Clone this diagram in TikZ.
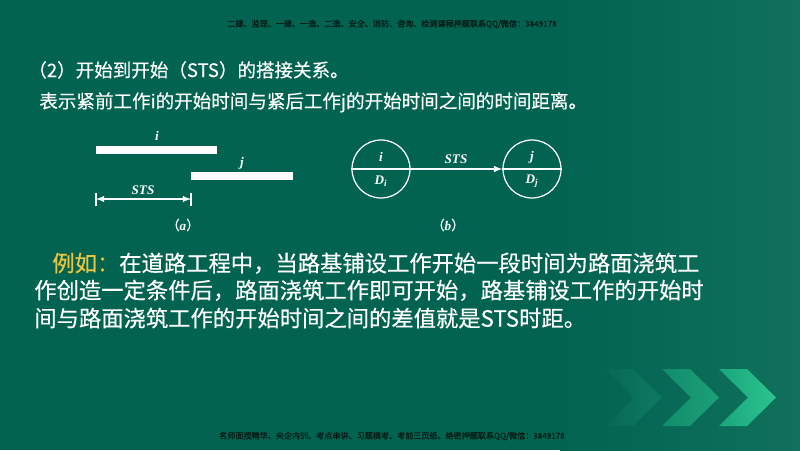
\documentclass[tikz,border=0pt]{standalone}
\usepackage{fontspec}
\newfontfamily\cjk{Noto Sans CJK SC}[FakeBold=0.4]
\newfontfamily\cjkheavy{Noto Sans CJK SC}[FakeBold=1.2]
\newfontfamily\diag{Liberation Serif}

\definecolor{bgmain}{RGB}{1,99,80}
\definecolor{bgright}{RGB}{16,112,92}
\definecolor{gold}{RGB}{236,196,64}
\definecolor{stamptext}{RGB}{8,30,24}
\definecolor{chevAl}{RGB}{8,104,84}
\definecolor{chevAr}{RGB}{14,122,98}
\definecolor{chevBl}{RGB}{18,140,108}
\definecolor{chevBr}{RGB}{28,160,120}
\definecolor{chevCl}{RGB}{26,166,122}
\definecolor{chevCr}{RGB}{44,196,144}

\begin{document}
\begin{tikzpicture}[x=0.02cm,y=-0.02cm,
  taskbar/.style={fill=white,draw=none,inner sep=0,minimum height=0.16cm},
  event/.style={circle,draw=white,line width=0.7pt,minimum size=1.16cm,inner sep=0},
  lbl/.style={text=white,inner sep=0,font=\diag\bfseries\itshape\fontsize{7.5}{9}\selectfont},
  heading/.style={text=white,inner sep=0,anchor=base west,font=\cjk\fontsize{10.55}{13}\selectfont},
  body/.style={text=white,inner sep=0,anchor=base west,font=\cjk\fontsize{12.7}{15.5}\selectfont},
  stamp/.style={text=stamptext,inner sep=0,font=\cjkheavy\fontsize{4.6}{5}\selectfont}]

% background
\fill[bgmain] (0,0) rectangle (800,450);
\shade[left color=bgmain,right color=bgright] (560,0) rectangle (800,450);
\useasboundingbox (0,0) rectangle (800,450);

\foreach \x/\ca/\cb in {605/chevAl/chevAr,662/chevBl/chevBr,719/chevCl/chevCr}
  \shade[left color=\ca,right color=\cb] (\x,369) -- ++(28,0) -- ++(29,28.5)
    -- ++(-29,28.5) -- ++(-28,0) -- ++(29,-28.5) -- cycle;

\node[stamp] (topnote) at (392,24) {二建、监理、一建、一造、二造、安全、消防、咨询、检测课程押题联系QQ/微信：3849178};
\node[stamp] (botnote) at (392,436) {名师面授精华、央企内训、考点串讲、习题模考、考前三页纸、绝密押题联系QQ/微信：3849178};

\node[heading] (title) at (28,77) {（2）开始到开始（STS）的搭接关系。};
\node[heading] (defn) at (39,108) {表示紧前工作i的开始时间与紧后工作j的开始时间之间的时间距离。};

% (a)
\node[taskbar,minimum width=2.42cm] (bi) at (156.5,150) {};
\node[taskbar,minimum width=2.04cm] (bj) at (242,176) {};
\node[lbl] (li) at (157,136) {i};
\node[lbl] (lj) at (242,163) {j};
\coordinate (dl) at (96,199);
\coordinate (dr) at (191,199);
\draw[white,line width=0.6pt] (dl) ++(0,-6.5) -- ++(0,13);
\draw[white,line width=0.6pt] (dr) ++(0,-6.5) -- ++(0,13);
\draw[white,line width=0.6pt,latex-latex] (dl) -- (dr);
\node[lbl] (stsa) at (143,190) {STS};
\node[lbl] (capa) at (183,225) {{\cjk\mdseries\upshape （}a{\cjk\mdseries\upshape ）}};

% (b)
\node[event] (ni) at (381,169) {};
\node[event] (nj) at (532,169) {};
\draw[white,line width=0.7pt] (ni.west) -- (ni.east);
\draw[white,line width=0.7pt,-latex] (ni.east) -- (nj.west);
\draw[white,line width=0.7pt] (nj.west) -- (nj.east);
\node[lbl] (ti) at (381,157) {i};
\node[lbl] (di) at (381,181) {D\textsubscript{i}};
\node[lbl] (tj) at (532,157) {j};
\node[lbl] (dj) at (532,181) {D\textsubscript{j}};
\node[lbl] (stsb) at (456,159) {STS};
\node[lbl] (capb) at (448,225) {{\cjk\mdseries\upshape （}b{\cjk\mdseries\upshape ）}};

\node[body] (ex1) at (52,271.5) {{\color{gold}例如：}在道路工程中，当路基铺设工作开始一段时间为路面浇筑工};
\node[body] (ex2) at (34,298.6) {作创造一定条件后，路面浇筑工作即可开始，路基铺设工作的开始时};
\node[body] (ex3) at (34,326.6) {间与路面浇筑工作的开始时间之间的差值就是STS时距。};
\end{tikzpicture}
\end{document}
